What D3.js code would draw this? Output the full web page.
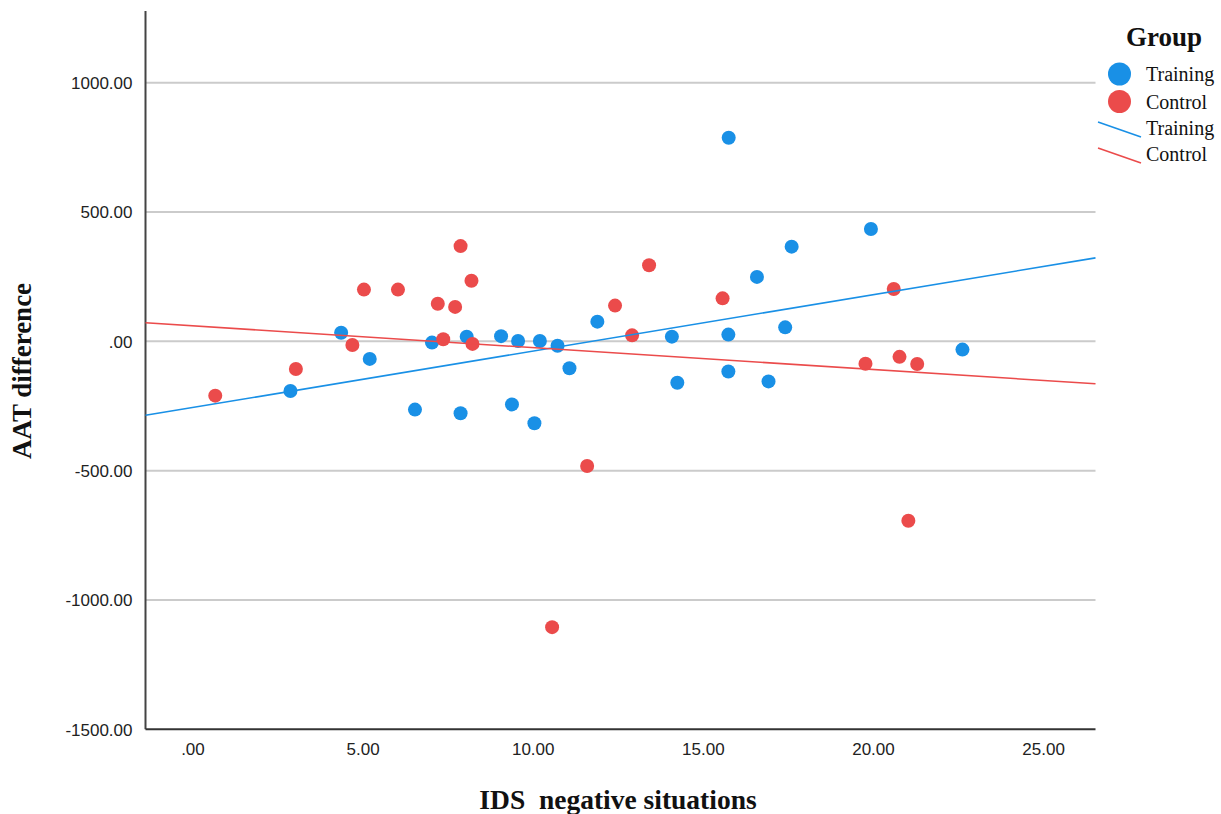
<!DOCTYPE html>
<html>
<head>
<meta charset="utf-8">
<script src="https://cdn.jsdelivr.net/npm/d3@7"></script>
<style>
  html, body { margin: 0; padding: 0; background: #fff; }
  svg { display: block; }
</style>
</head>
<body>
<div id="chart"></div>
<script>
// values
const groups = ["Training", "Control"];
const groupColors = ["#1990e6", "#eb4b4b"];

const trainingX = [2.88, 4.37, 5.21, 6.54, 7.04, 7.88, 8.06, 9.07, 9.39, 9.57, 10.05, 10.21, 10.73, 11.08, 11.90, 14.09, 14.25, 15.75, 15.75, 16.59, 16.93, 17.42, 17.61, 19.94, 15.76, 22.63];
const trainingY = [-192, 33, -68, -264, -5, -278, 18, 20, -244, 1, -317, 1, -17, -104, 76, 18, -160, 26, -117, 249, -155, 54, 366, 434, 787, -32];

const controlX = [0.67, 3.04, 4.70, 5.04, 6.04, 7.21, 7.72, 7.88, 8.20, 7.37, 8.23, 12.42, 13.42, 12.92, 15.58, 11.60, 10.57, 20.61, 19.78, 20.78, 21.30, 21.04];
const controlY = [-210, -107, -14, 200, 200, 145, 133, 368, 234, 8, -10, 138, 294, 23, 166, -482, -1105, 202, -87, -60, -88, -694];

// fit lines (intercept, slope) per group
const fitIntercept = [-256, 60];
const fitSlope = [21.8, -8.45];

const xTicks = [0, 5, 10, 15, 20, 25];
const xTickLabels = [".00", "5.00", "10.00", "15.00", "20.00", "25.00"];
const yTicks = [-1500, -1000, -500, 0, 500, 1000];
const yTickLabels = ["-1500.00", "-1000.00", "-500.00", ".00", "500.00", "1000.00"];

const W = 1221, H = 814;
const plotLeft = 145.5, plotRight = 1095.5, plotTop = 11, plotBottom = 729.3;

const svg = d3.select("#chart").append("svg")
  .attr("width", W)
  .attr("height", H);

const x = d3.scaleLinear().domain([-1.38, 26.54]).range([plotLeft, plotRight]);
const y = d3.scaleLinear().domain([-1500, 1277]).range([plotBottom, plotTop]);

// grid lines
svg.append("g")
  .selectAll("line")
  .data(yTicks.filter(v => v > -1500))
  .join("line")
  .attr("x1", plotLeft)
  .attr("x2", plotRight)
  .attr("y1", d => y(d))
  .attr("y2", d => y(d))
  .attr("stroke", "#cbcbcb")
  .attr("stroke-width", 2);

// axes
const yAxis = d3.axisLeft(y).tickValues(yTicks).tickSize(0).tickPadding(13)
  .tickFormat((d, i) => yTickLabels[i]);
const yAxisG = svg.append("g")
  .attr("transform", `translate(${plotLeft},0)`)
  .call(yAxis);
yAxisG.select(".domain").remove();
yAxisG.selectAll("text")
  .attr("dy", "0.35em")
  .style("font-family", "'Liberation Sans', Arial, sans-serif")
  .style("font-size", "17px")
  .attr("fill", "#222");

const xAxis = d3.axisBottom(x).tickValues(xTicks).tickSize(0).tickPadding(14)
  .tickFormat((d, i) => xTickLabels[i]);
const xAxisG = svg.append("g")
  .attr("transform", `translate(0,${plotBottom})`)
  .call(xAxis);
xAxisG.select(".domain").remove();
xAxisG.selectAll("text")
  .style("font-family", "'Liberation Sans', Arial, sans-serif")
  .style("font-size", "17px")
  .attr("fill", "#222");

svg.append("line")
  .attr("x1", plotLeft).attr("x2", plotLeft)
  .attr("y1", plotTop).attr("y2", plotBottom)
  .attr("stroke", "#444").attr("stroke-width", 2);
svg.append("line")
  .attr("x1", plotLeft).attr("x2", plotRight)
  .attr("y1", plotBottom).attr("y2", plotBottom)
  .attr("stroke", "#333").attr("stroke-width", 2);

// points
const series = [
  { xs: trainingX, ys: trainingY },
  { xs: controlX, ys: controlY }
];

series.forEach((s, gi) => {
  const pts = s.xs.map((v, i) => ({ x: v, y: s.ys[i] }));
  svg.append("g")
    .selectAll("circle")
    .data(pts)
    .join("circle")
    .attr("cx", d => x(d.x))
    .attr("cy", d => y(d.y))
    .attr("r", 7)
    .attr("fill", groupColors[gi]);
});

// fit lines
const line = d3.line().x(d => x(d[0])).y(d => y(d[1]));
groups.forEach((g, gi) => {
  const seg = x.domain().map(v => [v, fitIntercept[gi] + fitSlope[gi] * v]);
  svg.append("path")
    .attr("d", line(seg))
    .attr("fill", "none")
    .attr("stroke", groupColors[gi])
    .attr("stroke-width", 1.6);
});

// axis titles
svg.append("text")
  .attr("transform", "translate(31,371) rotate(-90)")
  .attr("text-anchor", "middle")
  .style("font-family", "'Liberation Serif', 'Times New Roman', serif")
  .style("font-weight", "bold")
  .style("font-size", "27px")
  .attr("fill", "#111")
  .text("AAT difference");

svg.append("text")
  .attr("x", 618)
  .attr("y", 809)
  .attr("text-anchor", "middle")
  .style("white-space", "pre")
  .style("font-family", "'Liberation Serif', 'Times New Roman', serif")
  .style("font-weight", "bold")
  .style("font-size", "27.5px")
  .attr("fill", "#111")
  .text("IDS  negative situations");

// legend
const legend = svg.append("g");
legend.append("text")
  .attr("x", 1164)
  .attr("y", 46)
  .attr("text-anchor", "middle")
  .style("font-family", "'Liberation Serif', 'Times New Roman', serif")
  .style("font-weight", "bold")
  .style("font-size", "27px")
  .attr("fill", "#111")
  .text("Group");

groups.forEach((g, gi) => {
  const cy = 74 + gi * 27.5;
  legend.append("circle")
    .attr("cx", 1119.5)
    .attr("cy", cy)
    .attr("r", 11.5)
    .attr("fill", groupColors[gi]);
  legend.append("text")
    .attr("x", 1146)
    .attr("y", cy + 7)
    .style("font-family", "'Liberation Serif', 'Times New Roman', serif")
    .style("font-size", "20px")
    .attr("fill", "#111")
    .text(g);
});

groups.forEach((g, gi) => {
  const ly = 122 + gi * 26;
  legend.append("line")
    .attr("x1", 1098).attr("y1", ly)
    .attr("x2", 1141).attr("y2", ly + 15)
    .attr("stroke", groupColors[gi])
    .attr("stroke-width", 1.6);
  legend.append("text")
    .attr("x", 1146)
    .attr("y", ly + 13)
    .style("font-family", "'Liberation Serif', 'Times New Roman', serif")
    .style("font-size", "20px")
    .attr("fill", "#111")
    .text(g);
});
</script>
</body>
</html>
